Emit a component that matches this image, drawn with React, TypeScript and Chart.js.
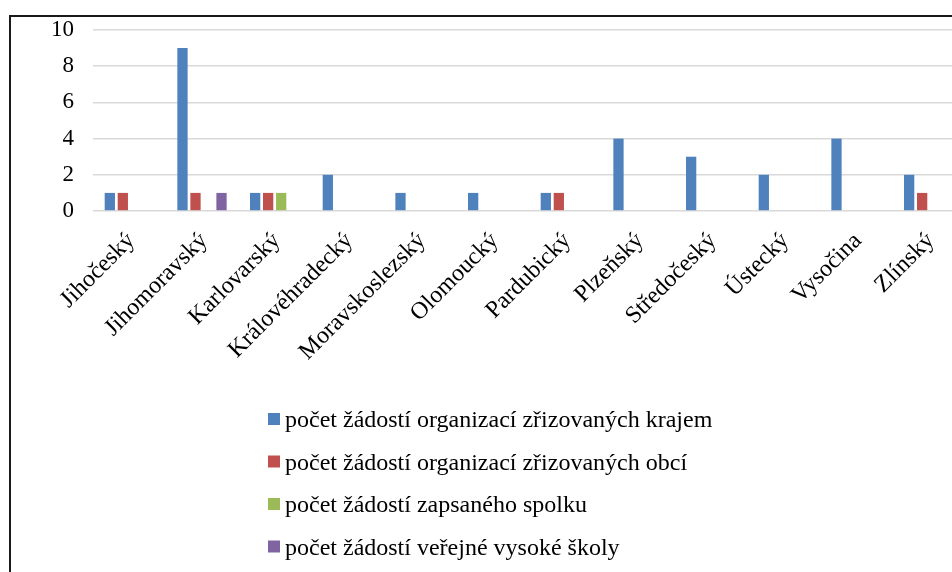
import React, { useEffect, useRef } from "react";
import { Chart, registerables } from "chart.js";

Chart.register(...registerables);

const categories = [
  "Jihočeský",
  "Jihomoravský",
  "Karlovarský",
  "Královéhradecký",
  "Moravskoslezský",
  "Olomoucký",
  "Pardubický",
  "Plzeňský",
  "Středočeský",
  "Ústecký",
  "Vysočina",
  "Zlínský",
];

const seriesNames = [
  "počet žádostí organizací zřizovaných krajem",
  "počet žádostí organizací zřizovaných obcí",
  "počet žádostí zapsaného spolku",
  "počet žádostí veřejné vysoké školy",
];

const krajem = [1, 9, 1, 2, 1, 1, 1, 4, 3, 2, 4, 2];
const obci = [1, 1, 1, 0, 0, 0, 1, 0, 0, 0, 0, 1];
const spolek = [0, 0, 1, 0, 0, 0, 0, 0, 0, 0, 0, 0];
const vysokeSkoly = [0, 1, 0, 0, 0, 0, 0, 0, 0, 0, 0, 0];

const seriesColors = ["#4F81BD", "#C0504D", "#9BBB59", "#8064A2"];
const yTicks = [0, 2, 4, 6, 8, 10];

const FONT = '"Times New Roman", "Liberation Serif", serif';

const CANVAS_W = 970;
const CANVAS_H = 560;

const legendPlugin = {
  id: "verticalLegend",
  afterDraw(chart: any) {
    const ctx = chart.ctx;
    const x = 257;
    const top = 396;
    const gap = 42.5;
    const box = 12;
    ctx.save();
    ctx.font = `24px ${FONT}`;
    ctx.textBaseline = "alphabetic";
    ctx.textAlign = "left";
    chart.data.datasets.forEach((ds: any, i: number) => {
      const y = top + i * gap;
      ctx.fillStyle = ds.backgroundColor;
      ctx.fillRect(x, y, box, box);
      ctx.fillStyle = "#000";
      ctx.fillText(ds.label, x + 17, y + 14);
    });
    ctx.restore();
  },
};

export default function App() {
  const ref = useRef<HTMLCanvasElement | null>(null);

  useEffect(() => {
    if (!ref.current) return;
    const values = [krajem, obci, spolek, vysokeSkoly];
    const chart = new Chart(ref.current, {
      type: "bar",
      data: {
        labels: categories,
        datasets: seriesNames.map((name, i) => ({
          label: name,
          data: values[i],
          backgroundColor: seriesColors[i],
          borderWidth: 0,
          categoryPercentage: 0.716,
          barPercentage: 0.79,
        })),
      },
      options: {
        animation: false,
        responsive: false,
        devicePixelRatio: 1,
        layout: { padding: { top: 13, right: 16, bottom: 216, left: 0 } },
        plugins: {
          legend: { display: false },
          tooltip: { enabled: false },
        },
        scales: {
          x: {
            grid: { display: false, drawTicks: false },
            border: { display: false },
            ticks: {
              autoSkip: false,
              maxRotation: 45,
              minRotation: 45,
              color: "#000",
              padding: 16,
              labelOffset: 2,
              font: { family: FONT, size: 24 },
            },
            afterFit(scale: any) {
              scale.height = 150;
              scale.paddingLeft = 0;
              scale.paddingRight = 0;
            },
          },
          y: {
            min: 0,
            max: 10,
            grid: { color: "#d9d9d9", lineWidth: 1.6, drawTicks: false },
            border: { display: false },
            ticks: {
              color: "#000",
              padding: 19,
              font: { family: FONT, size: 23 },
            },
            afterBuildTicks(scale: any) {
              scale.ticks = yTicks.map((v) => ({ value: v }));
            },
            afterFit(scale: any) {
              scale.width = 82;
              scale.paddingTop = 0;
              scale.paddingBottom = 0;
            },
          },
        },
      },
      plugins: [legendPlugin],
    });
    return () => chart.destroy();
  }, []);

  return (
    <div
      style={{
        position: "fixed",
        left: 0,
        top: 0,
        width: 952,
        height: 572,
        overflow: "hidden",
        background: "#fff",
      }}
    >
      <div
        style={{
          position: "absolute",
          left: 9,
          top: 15,
          width: 1000,
          height: 600,
          borderLeft: "2px solid #1a1a1a",
          borderTop: "2px solid #1a1a1a",
        }}
      >
        <canvas
          ref={ref}
          width={CANVAS_W}
          height={CANVAS_H}
          style={{ position: "absolute", left: 0, top: 0, width: CANVAS_W, height: CANVAS_H }}
        />
      </div>
    </div>
  );
}
